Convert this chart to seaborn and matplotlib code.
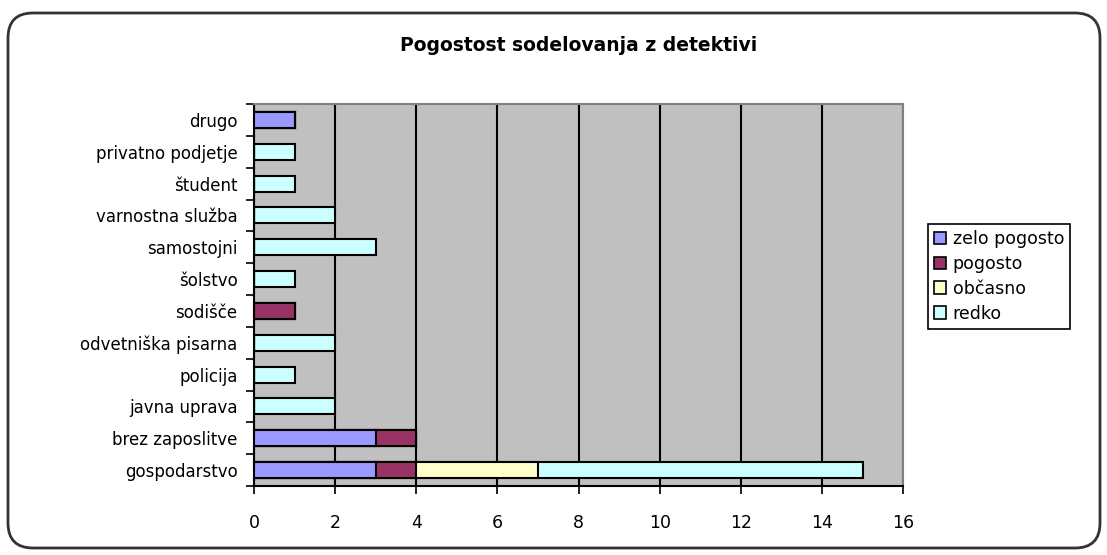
import numpy as np
import pandas as pd
import matplotlib
matplotlib.use("Agg")
import matplotlib.pyplot as plt
from matplotlib.patches import Patch, FancyBboxPatch
import seaborn as sns

# Data (top to bottom as in the chart)
categories = ["drugo", "privatno podjetje", "študent", "varnostna služba",
              "samostojni", "šolstvo", "sodišče", "odvetniška pisarna",
              "policija", "javna uprava", "brez zaposlitve", "gospodarstvo"]
zelo_pogosto = [1, 0, 0, 0, 0, 0, 0, 0, 0, 0, 3, 3]
pogosto = [0, 0, 0, 0, 0, 0, 1, 0, 0, 0, 1, 1]
obcasno = [0, 0, 0, 0, 0, 0, 0, 0, 0, 0, 0, 3]
redko = [0, 1, 1, 2, 3, 1, 0, 2, 1, 2, 0, 8]
series_names = ["zelo pogosto", "pogosto", "občasno", "redko"]
colors = ["#9999FF", "#993366", "#FFFFCC", "#CCFFFF"]
x_ticks = [0, 2, 4, 6, 8, 10, 12, 14, 16]

sns.set_theme(style="white")
plt.rcParams['font.family'] = ['DejaVu Sans']
plt.rcParams['text.color'] = 'black'
plt.rcParams['xtick.color'] = 'black'
plt.rcParams['ytick.color'] = 'black'

df = pd.DataFrame({"kategorija": categories,
                   "zelo pogosto": zelo_pogosto, "pogosto": pogosto,
                   "občasno": obcasno, "redko": redko})
cum = df[series_names].cumsum(axis=1)

fig = plt.figure(figsize=(11.07, 5.55), dpi=100)
ax = fig.add_axes([0.2295, 0.1243, 0.5863, 0.6883])
ax.set_facecolor("#C0C0C0")

# draw cumulative totals from the longest layer down so they look stacked
for name, col in reversed(list(zip(series_names, colors))):
    sns.barplot(x=cum[name], y=df["kategorija"], color=col, orient="h",
                width=0.5, edgecolor="black", linewidth=1.5, saturation=1,
                ax=ax, zorder=3)

ax.set_xlim(0, 16)
ax.set_ylim(11.5, -0.5)
ax.set_xticks(x_ticks)
ax.xaxis.grid(True, color="black", linewidth=1.5, zorder=1)
ax.set_axisbelow(True)
ax.set_xlabel("")
ax.set_ylabel("")
ax.set_title("Pogostost sodelovanja z detektivi", fontsize=13.5,
             fontweight="bold", pad=38, color="black")

ax.tick_params(axis="x", which="major", direction="out", length=6, width=1.2,
               color="black", labelsize=12.5, pad=14, bottom=True,
               labelcolor="black")
ax.tick_params(axis="y", which="major", length=0, labelsize=12, pad=12,
               labelcolor="black")
ax.set_yticks(np.arange(-0.5, 12, 1), minor=True)
ax.tick_params(axis="y", which="minor", direction="out", length=6, width=1.2,
               color="black", left=True)

for side in ["left", "bottom"]:
    ax.spines[side].set_color("black")
    ax.spines[side].set_linewidth(1.5)
for side in ["top", "right"]:
    ax.spines[side].set_visible(True)
    ax.spines[side].set_color("#808080")
    ax.spines[side].set_linewidth(1.5)

handles = [Patch(facecolor=c, edgecolor="black", linewidth=1.2) for c in colors]
leg = fig.legend(handles, series_names, loc="upper left",
                 bbox_to_anchor=(0.838, 0.597), fontsize=12.5, frameon=True,
                 fancybox=False, edgecolor="black", framealpha=1,
                 handlelength=0.7, handleheight=0.7, handletextpad=0.4,
                 borderpad=0.35, labelspacing=0.4, borderaxespad=0)
leg.get_frame().set_linewidth(1.2)
for t in leg.get_texts():
    t.set_color("black")

# rounded chart border
frame = FancyBboxPatch((8, 7), 1092, 535, boxstyle="round,pad=0,rounding_size=25",
                       transform=None, facecolor="none", edgecolor="#333333",
                       linewidth=2)
fig.patches.append(frame)

fig.savefig("out.png", dpi=100)
